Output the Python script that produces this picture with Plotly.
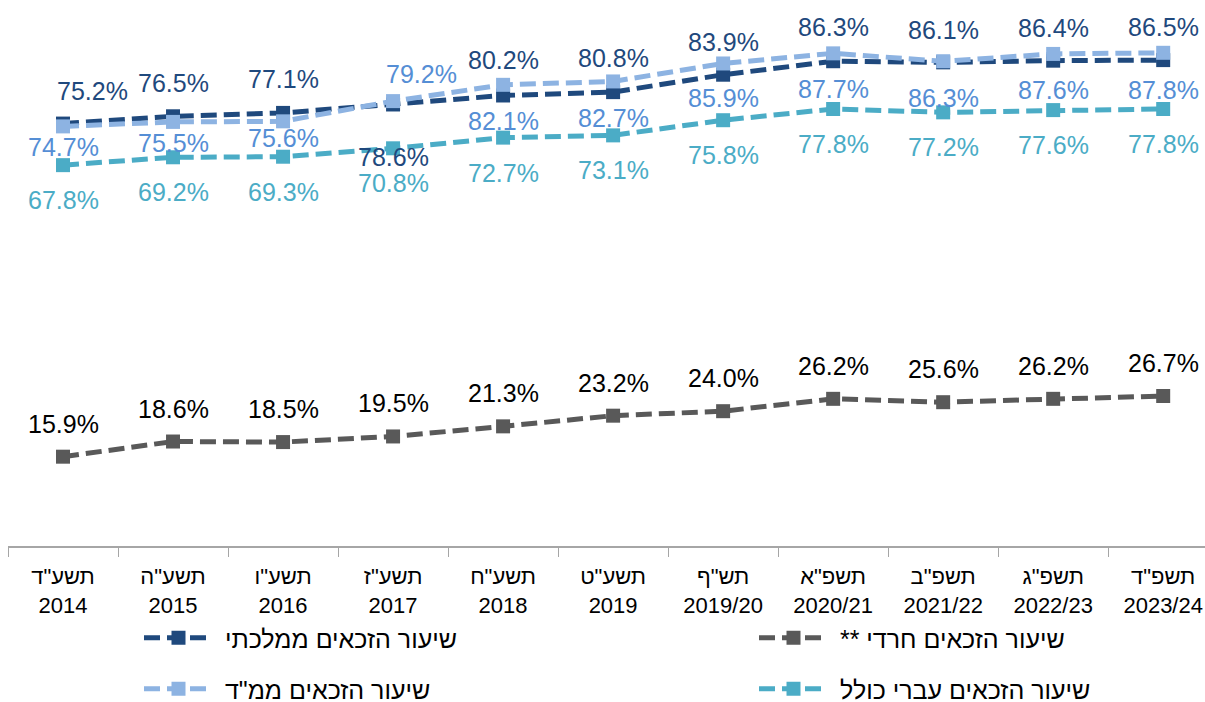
import plotly.graph_objects as go

years_he = ['תשע"ד', 'תשע"ה', 'תשע"ו', 'תשע"ז', 'תשע"ח', 'תשע"ט', 'תש"ף', 'תשפ"א', 'תשפ"ב', 'תשפ"ג', 'תשפ"ד']
years_num = ['2014', '2015', '2016', '2017', '2018', '2019', '2019/20', '2020/21', '2021/22', '2022/23', '2023/24']
categories = [f"{h}<br>{n}" for h, n in zip(years_he, years_num)]

mamlachti = [75.2, 76.5, 77.1, 78.6, 80.2, 80.8, 83.9, 86.3, 86.1, 86.4, 86.5]
mamad = [74.7, 75.5, 75.6, 79.2, 82.1, 82.7, 85.9, 87.7, 86.3, 87.6, 87.8]
haredi = [15.9, 18.6, 18.5, 19.5, 21.3, 23.2, 24.0, 26.2, 25.6, 26.2, 26.7]
ivri_kolel = [67.8, 69.2, 69.3, 70.8, 72.7, 73.1, 75.8, 77.8, 77.2, 77.6, 77.8]

NB = "\u00a0"
names = {
    "mamlachti": NB + "שיעור הזכאים ממלכתי",
    "haredi": NB + "** שיעור הזכאים חרדי",
    "mamad": NB + 'שיעור הזכאים ממ"ד',
    "ivri": NB + "שיעור הזכאים עברי כולל",
}

# label offsets in pixels (positive = downwards), style only
off_mamlachti = [-33, -33, -34, 53, -35, -34, -33, -34, -32, -33, -33]
xs_mamlachti = [29, 0, 0, 0, 0, 0, 0, 0, 0, 0, 0]
off_mamad = [21, 21, 17, -27, 36, 37, 35, 36, 37, 36, 37]
xs_mamad = [0, 0, 0, 28, 0, 0, 0, 0, 0, 0, 0]
off_ivri = [35] * 11
off_haredi = [-33] * 11

C_DARK = "#1F497D"
C_LIGHT = "#8DB3E2"
C_LIGHT_TXT = "#558ED5"
C_TEAL = "#4BACC6"
C_GRAY = "#595959"

FONT = "Arial, Liberation Sans, sans-serif"

ML, MB, W, H = 8, 156, 1205, 702
plot_w = W - ML
plot_h = H - MB

fig = go.Figure()

def add(vals, name, color, legend):
    fig.add_trace(go.Scatter(
        x=categories, y=vals, name=name, mode="lines+markers",
        line=dict(color=color, width=5, dash="16px,7px"),
        marker=dict(symbol="square", size=14, color=color),
        legend=legend, hoverinfo="skip",
    ))

add(mamlachti, names["mamlachti"], C_DARK, "legend")
add(haredi, names["haredi"], C_GRAY, "legend2")
add(mamad, names["mamad"], C_LIGHT, "legend3")
add(ivri_kolel, names["ivri"], C_TEAL, "legend4")

def labels(vals, offs, color, xshifts=None):
    for i, (c, v) in enumerate(zip(categories, vals)):
        fig.add_annotation(
            x=c, y=v, text=f"{v:.1f}%", showarrow=False,
            yshift=-offs[i], xshift=(xshifts[i] if xshifts else 0),
            font=dict(family=FONT, size=25, color=color),
        )

labels(mamlachti, off_mamlachti, C_DARK, xs_mamlachti)
labels(mamad, off_mamad, C_LIGHT_TXT, xs_mamad)
labels(ivri_kolel, off_ivri, C_TEAL)
labels(haredi, off_haredi, "#000000")

def leg(px_left, py_center):
    return dict(orientation="h", x=(px_left - ML) / plot_w, xanchor="left",
                y=1 - py_center / plot_h, yanchor="middle",
                itemwidth=69, font=dict(family=FONT, size=25, color="#000000"),
                bgcolor="rgba(0,0,0,0)")

fig.update_layout(
    width=W, height=H,
    margin=dict(l=ML, r=0, t=0, b=MB, autoexpand=False),
    paper_bgcolor="white", plot_bgcolor="white",
    font=dict(family=FONT, size=22, color="#000000"),
    showlegend=True,
    legend=leg(139, 638),
    legend2=leg(754, 638),
    legend3=leg(139, 689),
    legend4=leg(754, 689),
    xaxis=dict(type="category", range=[-0.5, 10.38], showline=True,
               linecolor="#A6A6A6", linewidth=1.5, ticks="outside",
               tickson="boundaries", ticklen=9, tickcolor="#A6A6A6",
               showgrid=False, tickfont=dict(family=FONT, size=22, color="#000000"),
               ticklabelstandoff=10, fixedrange=True),
    yaxis=dict(range=[0, 97.2], visible=False, showgrid=False, fixedrange=True),
)

fig.write_html("out.html", config={"displayModeBar": False},
               post_script="document.body.style.margin='0';")
